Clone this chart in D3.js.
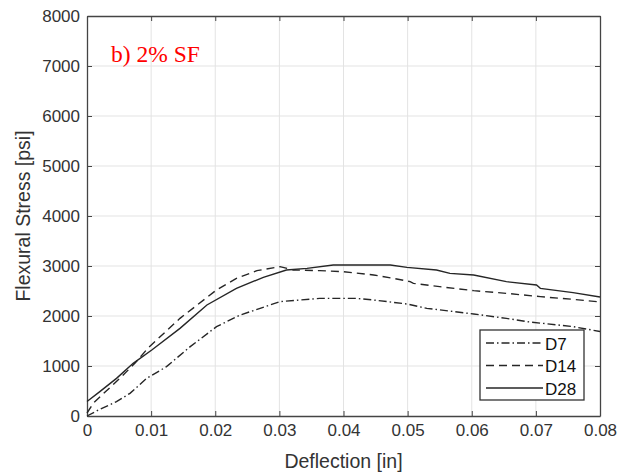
<!DOCTYPE html>
<html>
<head>
    <meta charset="utf-8">
    <style>
        body { margin: 0; background: #fff; }
        text { font-family: "Liberation Sans", Arial, sans-serif; fill: #333; }
        .grid line { stroke: #e3e3e3; stroke-width: 1px; }
        .curve { fill: none; stroke: #262626; stroke-width: 1.4px; }
    </style>
</head>
<body>
<script src="https://d3js.org/d3.v7.min.js"></script>
<script>
// deflection [in] / flexural stress [psi]
var d7X  = [0, 0.002, 0.0046, 0.0067, 0.0093, 0.0124, 0.0161, 0.0202, 0.0239, 0.027, 0.0301, 0.0332, 0.0363, 0.042, 0.0447, 0.0499, 0.053, 0.0603, 0.0654, 0.0686, 0.0758, 0.08];
var d7Y  = [0, 133, 287, 453, 753, 987, 1387, 1787, 2020, 2153, 2287, 2320, 2353, 2353, 2320, 2240, 2153, 2040, 1953, 1887, 1787, 1690];

var d14X = [0, 0.001, 0.003, 0.0055, 0.0075, 0.0096, 0.0145, 0.0202, 0.0233, 0.0265, 0.0301, 0.0322, 0.0363, 0.04, 0.0447, 0.0478, 0.0504, 0.0509, 0.055, 0.0603, 0.0654, 0.0707, 0.0758, 0.08];
var d14Y = [60, 260, 500, 800, 1060, 1370, 1953, 2520, 2753, 2907, 2987, 2920, 2907, 2887, 2820, 2753, 2687, 2653, 2587, 2507, 2453, 2387, 2333, 2280];

var d28X = [0, 0.002, 0.0046, 0.0072, 0.0101, 0.0145, 0.0187, 0.0233, 0.0275, 0.0311, 0.0343, 0.0384, 0.0426, 0.0473, 0.0499, 0.0545, 0.0566, 0.0603, 0.0654, 0.0701, 0.0707, 0.0758, 0.08];
var d28Y = [290, 487, 753, 1053, 1320, 1753, 2220, 2553, 2773, 2920, 2953, 3020, 3020, 3020, 2973, 2920, 2853, 2820, 2687, 2620, 2553, 2467, 2380];

var xTicks = [0, 0.01, 0.02, 0.03, 0.04, 0.05, 0.06, 0.07, 0.08];
var yTicks = [0, 1000, 2000, 3000, 4000, 5000, 6000, 7000, 8000];

var seriesNames = ["D7", "D14", "D28"];
var dashes = ["8,3,1.5,3", "8,5", null];

var width = 621, height = 476;
var plotL = 87, plotT = 16, plotR = 600, plotB = 416;

var svg = d3.select("body").append("svg")
    .attr("width", width)
    .attr("height", height);

var x = d3.scaleLinear().domain([0, 0.08]).range([plotL, plotR]);
var y = d3.scaleLinear().domain([0, 8000]).range([plotB, plotT]);

// grid
var grid = svg.append("g").attr("class", "grid");
grid.selectAll(".gx").data(xTicks.slice(1, -1)).enter().append("line")
    .attr("x1", function(d) { return x(d); })
    .attr("x2", function(d) { return x(d); })
    .attr("y1", plotT).attr("y2", plotB);
grid.selectAll(".gy").data(yTicks.slice(1, -1)).enter().append("line")
    .attr("y1", function(d) { return y(d); })
    .attr("y2", function(d) { return y(d); })
    .attr("x1", plotL).attr("x2", plotR);

// axes (MATLAB-like inward ticks, box on)
var xAxis = d3.axisBottom(x).tickValues(xTicks).tickSizeInner(-5).tickSizeOuter(0)
    .tickPadding(8).tickFormat(function(d) { return d === 0 ? "0" : d3.format(".2f")(d); });
var yAxis = d3.axisLeft(y).tickValues(yTicks).tickSizeInner(-5).tickSizeOuter(0)
    .tickPadding(7).tickFormat(d3.format("d"));
var xTop = d3.axisTop(x).tickValues(xTicks).tickSizeInner(-5).tickSizeOuter(0).tickFormat("");
var yRight = d3.axisRight(y).tickValues(yTicks).tickSizeInner(-5).tickSizeOuter(0).tickFormat("");

function styleAxis(g) {
    g.select(".domain").attr("stroke", "#444").attr("stroke-width", 1.3);
    g.selectAll(".tick line").attr("stroke", "#444");
    g.selectAll(".tick text").attr("fill", "#333").style("font-size", "17px")
        .style("font-family", "'Liberation Sans', Arial, sans-serif");
}

svg.append("g").attr("transform", "translate(0," + plotB + ")").call(xAxis).call(styleAxis);
svg.append("g").attr("transform", "translate(" + plotL + ",0)").call(yAxis).call(styleAxis);
svg.append("g").attr("transform", "translate(0," + plotT + ")").call(xTop).call(styleAxis);
svg.append("g").attr("transform", "translate(" + plotR + ",0)").call(yRight).call(styleAxis);

// curves
var allSeries = [
    { xs: d7X, ys: d7Y },
    { xs: d14X, ys: d14Y },
    { xs: d28X, ys: d28Y }
];
var line = d3.line()
    .x(function(d) { return x(d[0]); })
    .y(function(d) { return y(d[1]); });

allSeries.forEach(function(s, i) {
    var pts = s.xs.map(function(v, j) { return [v, s.ys[j]]; });
    svg.append("path")
        .attr("class", "curve")
        .attr("d", line(pts))
        .attr("stroke-dasharray", dashes[i]);
});

// axis titles
svg.append("text")
    .attr("x", (plotL + plotR) / 2)
    .attr("y", 468)
    .attr("text-anchor", "middle")
    .style("font-size", "19.5px")
    .text("Deflection [in]");

svg.append("text")
    .attr("transform", "translate(30," + ((plotT + plotB) / 2) + ") rotate(-90)")
    .attr("text-anchor", "middle")
    .style("font-size", "19.5px")
    .text("Flexural Stress [psi]");

// panel label
svg.append("text")
    .attr("x", 111)
    .attr("y", 62)
    .style("font-family", "'Liberation Serif', 'Times New Roman', serif")
    .style("font-size", "23.5px")
    .style("fill", "#ff0000")
    .text("b) 2% SF");

// legend
var legend = svg.append("g");
legend.append("rect")
    .attr("x", 480).attr("y", 330)
    .attr("width", 104).attr("height", 70)
    .attr("fill", "#fff").attr("stroke", "#333").attr("stroke-width", 1.3);

seriesNames.forEach(function(name, i) {
    var ly = 343 + i * 22.5;
    legend.append("line")
        .attr("x1", 486).attr("x2", 543)
        .attr("y1", ly).attr("y2", ly)
        .attr("stroke", "#262626").attr("stroke-width", 1.4)
        .attr("stroke-dasharray", dashes[i]);
    legend.append("text")
        .attr("x", 545).attr("y", ly + 6.5)
        .style("font-size", "17px")
        .style("fill", "#111")
        .text(name);
});
</script>
</body>
</html>
